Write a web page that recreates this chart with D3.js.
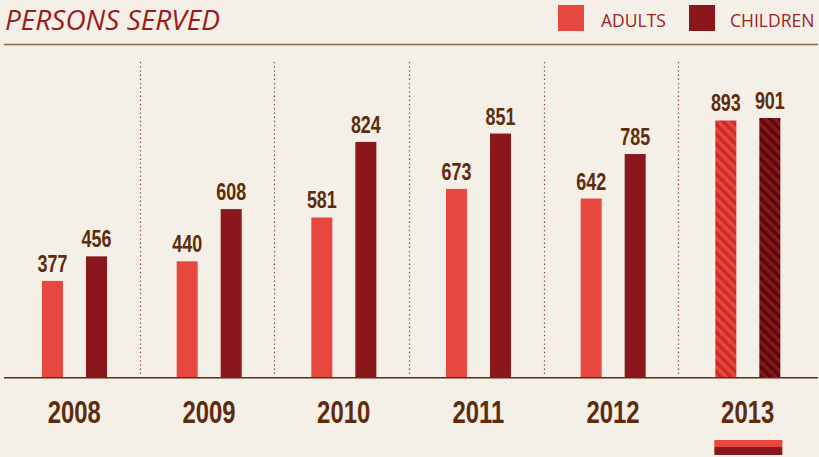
<!DOCTYPE html>
<html>
<head>
<meta charset="utf-8">
<script src="https://cdn.jsdelivr.net/npm/d3@7/dist/d3.min.js"></script>
<style>
  html, body { margin: 0; padding: 0; background: #f4f0e7; }
  svg { display: block; }
</style>
</head>
<body>
<svg id="chart" width="819" height="457"></svg>
<script>
const years = ["2008", "2009", "2010", "2011", "2012", "2013"];
const seriesNames = ["ADULTS", "CHILDREN"];
const adults = [377, 440, 581, 673, 642, 893];
const children = [456, 608, 824, 851, 785, 901];
const highlightYear = "2013";
const title = "PERSONS SERVED";

const colors = { ADULTS: "#e8473f", CHILDREN: "#8b161b" };
const stripeColors = { ADULTS: "#cc2a27", CHILDREN: "#560a0d" };

const W = 819, H = 457;
const baseY = 377;
const svg = d3.select("#chart");

svg.append("rect").attr("width", W).attr("height", H).attr("fill", "#f4f0e7");

const defs = svg.append("defs");
seriesNames.forEach(s => {
  const p = defs.append("pattern")
    .attr("id", "stripe-" + s)
    .attr("patternUnits", "userSpaceOnUse")
    .attr("width", 7).attr("height", 7)
    .attr("patternTransform", "rotate(-45)");
  p.append("rect").attr("width", 7).attr("height", 7).attr("fill", colors[s]);
  p.append("rect").attr("width", 3.5).attr("height", 7).attr("fill", stripeColors[s]);
});

const x0 = d3.scaleBand().domain(years).range([5, 813]).padding(0);
const x1 = d3.scaleBand().domain(seriesNames).range([37, 102]).paddingInner(0.523).paddingOuter(0);
const y = d3.scaleLinear().domain([68, 901]).range([baseY, 118]);

const data = years.map((yr, i) => ({ year: yr, values: [
  { key: "ADULTS", value: adults[i] },
  { key: "CHILDREN", value: children[i] }
]}));

const narrowFont = "'Liberation Sans', 'Arial', sans-serif";

// title
svg.append("text")
  .attr("x", 5).attr("y", 30)
  .attr("font-family", "'Open Sans', 'Noto Sans', sans-serif")
  .attr("font-style", "italic")
  .attr("font-size", 28)
  .attr("fill", "#9b1b1b")
  .text(title);

svg.append("line")
  .attr("x1", 4).attr("x2", 818).attr("y1", 44.5).attr("y2", 44.5)
  .attr("stroke", "#93624a").attr("stroke-width", 1.6);

// legend
const legendPos = [{ rx: 558, tx: 601 }, { rx: 689, tx: 730 }];
seriesNames.forEach((s, i) => {
  svg.append("rect").attr("x", legendPos[i].rx).attr("y", 5).attr("width", 26).attr("height", 26).attr("fill", colors[s]);
  svg.append("text").attr("x", legendPos[i].tx).attr("y", 27)
    .attr("font-family", "'Open Sans', 'Noto Sans', sans-serif")
    .attr("font-size", 17.5)
    .attr("fill", "#9b2323")
    .text(s);
});

// separators
years.slice(1).forEach(yr => {
  svg.append("line")
    .attr("x1", Math.round(x0(yr)) + 0.5).attr("x2", Math.round(x0(yr)) + 0.5)
    .attr("y1", 62).attr("y2", baseY)
    .attr("stroke", "#7a4a30").attr("stroke-width", 1.2)
    .attr("stroke-dasharray", "1.3,2.9");
});

// bars
const groups = svg.append("g").selectAll("g.grp").data(data).join("g")
  .attr("class", "grp")
  .attr("transform", d => `translate(${x0(d.year)},0)`);

groups.selectAll("rect").data(d => d.values.map(v => ({ ...v, year: d.year }))).join("rect")
  .attr("x", d => x1(d.key))
  .attr("width", x1.bandwidth())
  .attr("y", d => y(d.value))
  .attr("height", d => baseY - y(d.value))
  .attr("fill", d => d.year === highlightYear ? `url(#stripe-${d.key})` : colors[d.key]);

groups.selectAll("text.val").data(d => d.values).join("text")
  .attr("class", "val")
  .attr("transform", d => `translate(${x1(d.key) + x1.bandwidth() / 2},${y(d.value) - 9}) scale(0.78,1)`)
  .attr("text-anchor", "middle")
  .attr("font-family", narrowFont)
  .attr("font-weight", "bold")
  .attr("font-size", 23)
  .attr("fill", "#5e2c0c")
  .text(d => d.value);

// baseline
svg.append("line")
  .attr("x1", 4).attr("x2", 818).attr("y1", baseY + 0.8).attr("y2", baseY + 0.8)
  .attr("stroke", "#5a2e14").attr("stroke-width", 1.6);

// year axis labels
const xAxis = d3.axisBottom(x0).tickSize(0).tickPadding(0);
const ax = svg.append("g").attr("transform", `translate(0,${baseY})`).call(xAxis);
ax.select(".domain").remove();
ax.selectAll(".tick text")
  .attr("dy", null)
  .attr("y", 0)
  .attr("transform", "translate(2,46) scale(0.77,1)")
  .attr("font-family", narrowFont)
  .attr("font-weight", "bold")
  .attr("font-size", 31)
  .attr("fill", "#5e2c0c");

// highlight marker under 2013
const hx = x0(highlightYear) + 36;
svg.append("rect").attr("x", hx).attr("y", 440).attr("width", 68).attr("height", 7).attr("fill", colors.ADULTS);
svg.append("rect").attr("x", hx).attr("y", 447).attr("width", 68).attr("height", 8).attr("fill", colors.CHILDREN);
</script>
</body>
</html>
